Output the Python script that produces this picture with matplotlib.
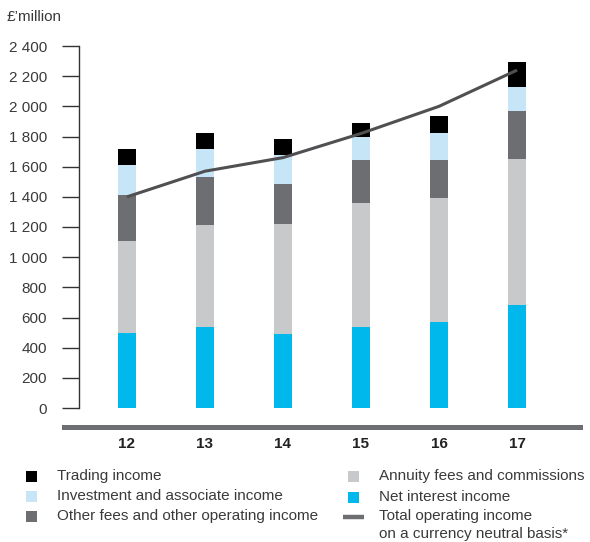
import matplotlib
matplotlib.use("Agg")
import matplotlib.pyplot as plt
import numpy as np
from matplotlib.patches import Rectangle
from matplotlib.lines import Line2D

plt.rcParams["font.family"] = ["Liberation Sans", "DejaVu Sans"]

years = ["12", "13", "14", "15", "16", "17"]
net_interest = [500, 540, 490, 540, 570, 685]
annuity_fees = [610, 670, 730, 820, 820, 965]
other_fees = [300, 320, 265, 285, 255, 320]
investment = [200, 185, 190, 155, 175, 160]
trading = [105, 105, 110, 90, 115, 165]
total_cn = [1400, 1570, 1660, 1820, 2000, 2240]

series = [
    ("Net interest income", net_interest, "#00b8eb"),
    ("Annuity fees and commissions", annuity_fees, "#c8c9cb"),
    ("Other fees and other operating income", other_fees, "#6d6e71"),
    ("Investment and associate income", investment, "#c6e6f8"),
    ("Trading income", trading, "#000000"),
]
LINE_C = "#505052"
TXT = "#3a3a3a"
FS = 11

W, H = 590, 542
fig = plt.figure(figsize=(W / 100, H / 100), dpi=100)


def fx(px):
    return px / W


def fy(py):
    return 1 - py / H


ax = fig.add_axes([fx(79), fy(408), fx(583) - fx(79), (408 - 46) / H])
x = np.arange(len(years))
bottom = np.zeros(len(years))
for name, vals, col in series:
    ax.bar(x, vals, 0.23, bottom=bottom, color=col, linewidth=0)
    bottom += np.array(vals)
ax.plot(x, total_cn, color=LINE_C, lw=2.2, solid_capstyle="butt", zorder=3)

ax.set_xlim(-0.615, 5.846)
ax.set_ylim(0, 2400)
for s in ["top", "right", "bottom"]:
    ax.spines[s].set_visible(False)
ax.spines["left"].set_color("#333333")
ax.spines["left"].set_linewidth(1.0)

yt = np.arange(0, 2401, 200)
ax.set_yticks(yt)
ax.set_yticklabels([f"{v:,}".replace(",", " ") for v in yt])
ax.tick_params(axis="y", length=12.2, width=1.0, color="#333333", pad=10.8,
               labelsize=FS, labelcolor=TXT)
ax.set_xticks(x)
ax.set_xticklabels(years, fontweight="bold")
ax.tick_params(axis="x", length=0, pad=21, labelsize=FS, labelcolor="#222222")

fig.text(fx(7), fy(17), "£’million", fontsize=FS, color=TXT, va="center", ha="left")

# thick baseline band under the plot
fig.add_artist(Rectangle((fx(62), fy(430)), fx(583) - fx(62), 5 / H,
                         transform=fig.transFigure, fc="#6d6e71", ec="none"))

# legend, two columns
left = [("Trading income", "#000000", 476),
        ("Investment and associate income", "#c6e6f8", 496),
        ("Other fees and other operating income", "#6d6e71", 516)]
right = [("Annuity fees and commissions", "#c8c9cb", 476),
         ("Net interest income", "#00b8eb", 497)]
for label, col, yy in left:
    fig.add_artist(Rectangle((fx(26), fy(yy + 5.5)), 11 / W, 11 / H,
                             transform=fig.transFigure, fc=col, ec="none"))
    fig.text(fx(57), fy(yy), label, fontsize=FS, color=TXT, va="center")
for label, col, yy in right:
    fig.add_artist(Rectangle((fx(348), fy(yy + 5.5)), 11 / W, 11 / H,
                             transform=fig.transFigure, fc=col, ec="none"))
    fig.text(fx(379), fy(yy), label, fontsize=FS, color=TXT, va="center")
fig.add_artist(Line2D([fx(343), fx(364)], [fy(517), fy(517)],
                      transform=fig.transFigure, color="#6d6e71", lw=3.2,
                      solid_capstyle="butt"))
fig.text(fx(379), fy(516), "Total operating income", fontsize=FS, color=TXT, va="center")
fig.text(fx(379), fy(534), "on a currency neutral basis*", fontsize=FS, color=TXT, va="center")

fig.savefig("out.png", dpi=100)
